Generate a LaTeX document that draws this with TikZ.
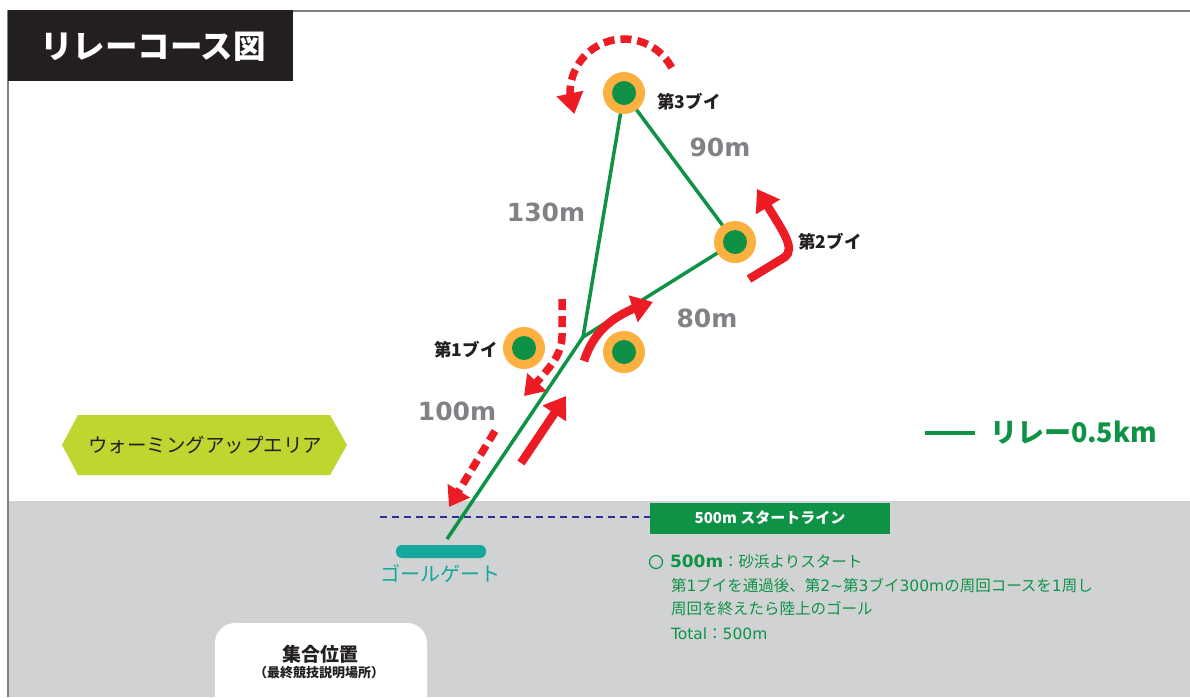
\documentclass[tikz,border=0pt]{standalone}
\usepackage{fontspec}
\setmainfont{Noto Sans CJK JP}
\newfontfamily\distfont{DejaVu Sans}
\usetikzlibrary{arrows.meta,bending}
\newcommand\pxf[1]{\fontsize{#1}{#1}\selectfont}
\definecolor{bggray}{HTML}{D1D2D4}
\definecolor{bordergray}{HTML}{808080}
\definecolor{titleblack}{HTML}{231F20}
\definecolor{coursegreen}{HTML}{0E9346}
\definecolor{buoyorange}{HTML}{FBB040}
\definecolor{buoygreen}{HTML}{0F9145}
\definecolor{arrowred}{HTML}{ED1C24}
\definecolor{limegreen}{HTML}{BED62F}
\definecolor{gateteal}{HTML}{14A79D}
\definecolor{navyline}{HTML}{2E3192}
\definecolor{distgray}{HTML}{808285}
\definecolor{darktext}{HTML}{231F20}
\begin{document}
\begin{tikzpicture}[x=1pt,y=1pt,
  every node/.style={inner sep=0pt,outer sep=0pt},
  course/.style={draw=coursegreen,line width=3.5pt},
  buoy/.style={circle,fill=buoyorange,minimum size=42pt,
    path picture={\fill[buoygreen] (path picture bounding box.center) circle (12pt);}},
  buoylabel/.style={text=darktext,font=\pxf{17.5}\bfseries},
  distlabel/.style={text=distgray,font=\distfont\pxf{25}\bfseries},
  solidarrow/.style={draw=arrowred,line width=8.5pt,-{Triangle[length=21pt,width=27pt]}},
  dasharrow/.style={draw=arrowred,line width=7.5pt,dash pattern=on 11pt off 6pt,-{Triangle[length=19pt,width=25pt]}},
  desc/.style={anchor=west,text=coursegreen,font=\pxf{15.5}},
]
\useasboundingbox (0,0) rectangle (1190,-697);
\fill[white] (0,0) rectangle (1190,-697);
\fill[bggray] (7,-501) rectangle (1190,-697);
\draw[bordergray,line width=2pt] (8,-697) -- (8,-11) -- (1190,-11);
% title
\fill[titleblack] (8,-10) rectangle (293,-81);
\node[text=white,font=\pxf{32.5}\bfseries] (title) at (153,-47) {リレーコース図};
% course points
\coordinate (b3) at (624,-93);
\coordinate (b2) at (735,-242);
\coordinate (b1) at (524,-348);
\coordinate (b4) at (624,-352);
\coordinate (jn) at (583,-337);
\coordinate (gs) at (447,-539);
% start line
\coordinate (sl1) at (380,-517);
\coordinate (sl2) at (650,-517);
\draw[navyline,line width=2pt,dash pattern=on 7pt off 5pt] (sl1) -- (sl2);
\node[fill=coursegreen,minimum width=240pt,minimum height=31pt,text=white,font=\pxf{15}\bfseries] (startbox) at (770,-518) {500m スタートライン};
% course lines
\draw[course,line join=round] (gs) -- (jn) -- (b3) -- (b2) -- (jn);
% buoys
\node[buoy] (buoy3) at (b3) {};
\node[buoy] (buoy2) at (b2) {};
\node[buoy] (buoy1) at (b1) {};
\node[buoy] (buoy4) at (b4) {};
\node[buoylabel] (lab3) at (689,-102) {第3ブイ};
\node[buoylabel] (lab2) at (830,-242) {第2ブイ};
\node[buoylabel] (lab1) at (466,-350) {第1ブイ};
% distances
\node[distlabel] (d90) at (720,-147) {90m};
\node[distlabel] (d130) at (546,-212) {130m};
\node[distlabel] (d80) at (707,-318) {80m};
\node[distlabel] (d100) at (457,-411) {100m};
% red arrows
\draw[dasharrow,-{Triangle[length=21pt,width=26pt,flex]}] ([shift={(28:54)}]b3) arc[start angle=28,end angle=203,radius=54];
\coordinate (a2s) at (749,-279);
\coordinate (a2t) at (757,-189);
\draw[solidarrow] (a2s) -- (785,-257) .. controls (797,-247) and (779,-226) .. (a2t);
\coordinate (a3s) at (584,-361);
\coordinate (a3t) at (653,-302);
\draw[solidarrow] (a3s) .. controls (593,-334) and (610,-314) .. (a3t);
\coordinate (a4s) at (521,-463);
\coordinate (a4t) at (566,-396);
\draw[solidarrow] (a4s) -- (a4t);
\coordinate (a5s) at (562,-299);
\coordinate (a5t) at (524,-396);
\draw[dasharrow] (a5s) -- (562,-336) .. controls (562,-356) and (548,-370) .. (a5t);
\coordinate (a6s) at (495,-431);
\coordinate (a6t) at (449,-507);
\draw[dasharrow] (a6s) -- (a6t);
% warming up area
\fill[limegreen] (62,-445) -- (78,-415) -- (330,-415) -- (347,-445) -- (330,-475) -- (78,-475) -- cycle;
\node[text=darktext,font=\pxf{19.5}] (warm) at (205,-445) {ウォーミングアップエリア};
% legend
\coordinate (lg1) at (925,-433);
\coordinate (lg2) at (975,-433);
\draw[coursegreen,line width=4.5pt] (lg1) -- (lg2);
\node[anchor=west,text=coursegreen,font=\pxf{27}\bfseries] (legend) at (990,-433) {リレー0.5km};
% goal gate
\fill[gateteal,rounded corners=6pt] (396,-545) rectangle (486,-558);
\node[text=gateteal,font=\pxf{20}] (gate) at (440,-574) {ゴールゲート};
% description
\node[circle,draw=coursegreen,line width=1.2pt,minimum size=13pt] (bullet) at (656,-562) {};
\node[desc] (dl1) at (670,-562) {{\distfont\pxf{17}\bfseries 500m}：砂浜よりスタート};
\node[desc] (dl2) at (671,-586) {第{\distfont 1}ブイを通過後、第{\distfont 2\textasciitilde}第{\distfont 3}ブイ{\distfont 300m}の周回コースを{\distfont 1}周し};
\node[desc] (dl3) at (671,-609) {周回を終えたら陸上のゴール};
\node[desc] (dl4) at (671,-634) {{\distfont Total}：{\distfont 500m}};
% gathering place
\fill[white,rounded corners=20pt] (215,-730) rectangle (427,-623);
\node[text=darktext,font=\pxf{19}\bfseries] (gather) at (320,-654) {集合位置};
\node[text=darktext,font=\pxf{13}\bfseries] (gather2) at (319,-673) {（最終競技説明場所）};
\end{tikzpicture}
\end{document}
